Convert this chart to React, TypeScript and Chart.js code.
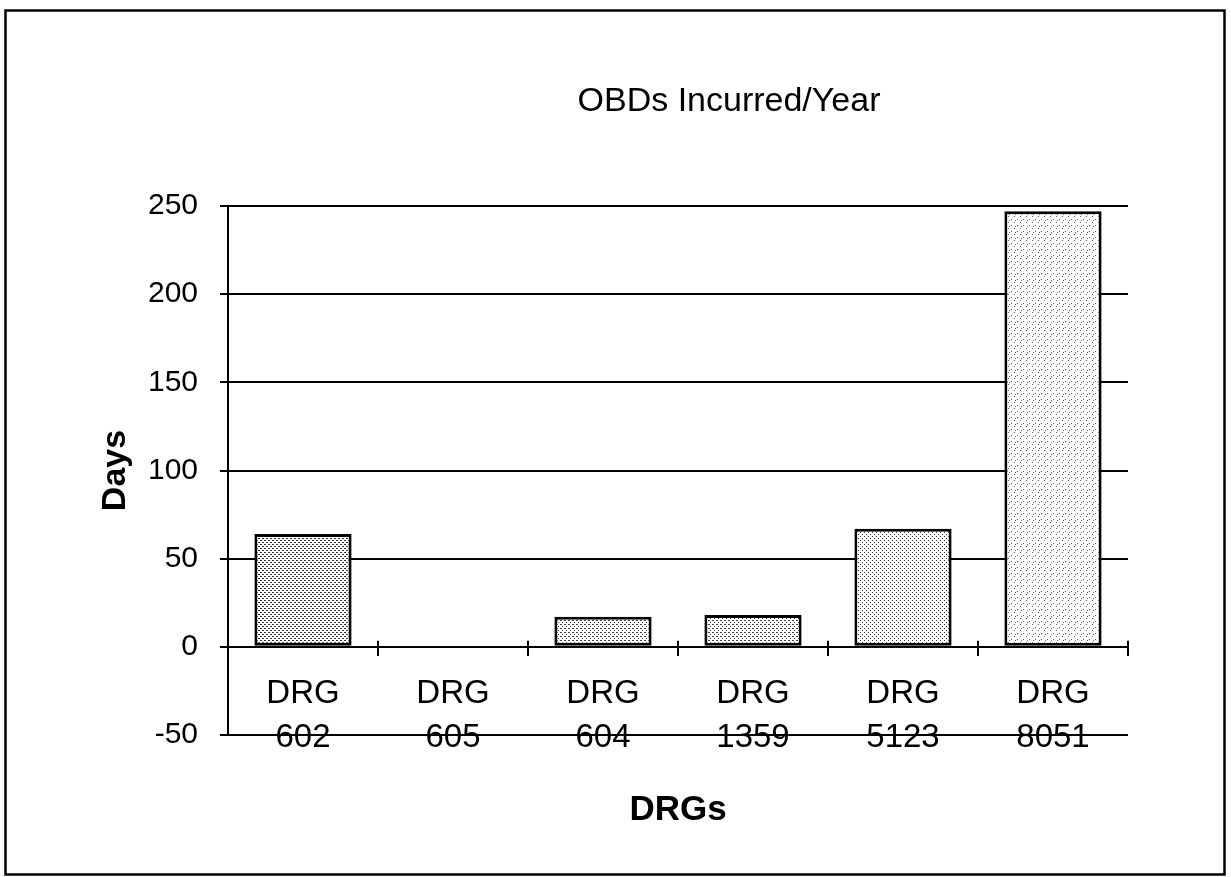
import React, { useEffect, useRef } from "react";
import { Chart, registerables } from "chart.js";

Chart.register(...registerables);

const chartTitle = "OBDs Incurred/Year";
const xAxisTitle = "DRGs";
const yAxisTitle = "Days";
const drgPrefix = "DRG";
const drgCodes = ["602", "605", "604", "1359", "5123", "8051"];
const obdDays = [64, 0, 17, 18, 67, 247];
const yMin = -50;
const yMax = 250;
const yStep = 50;

const FONT = "'Liberation Sans', Arial, Helvetica, sans-serif";

function makePattern(size: number, dots: number[][], color: string) {
  const c = document.createElement("canvas");
  c.width = size;
  c.height = size;
  const g = c.getContext("2d")!;
  g.fillStyle = "#ffffff";
  g.fillRect(0, 0, size, size);
  g.fillStyle = color;
  dots.forEach(([x, y]) => g.fillRect(x, y, 1, 1));
  return g.createPattern(c, "repeat");
}

export default function App() {
  const ref = useRef<HTMLCanvasElement | null>(null);

  useEffect(() => {
    if (!ref.current) return;
    const dark = makePattern(4, [[0, 0], [1, 0], [2, 2], [3, 2]], "#333");
    const med = makePattern(4, [[0, 0], [1, 0], [2, 2]], "#444");
    const light = makePattern(4, [[0, 0], [2, 2]], "#333");
    const pale = makePattern(6, [[0, 0], [3, 3], [1, 4]], "#666");
    const fills = [dark, med, med, med, light, pale];

    const framePlugin = {
      id: "frameAndTitle",
      afterDraw(chart: any) {
        const ctx = chart.ctx;
        ctx.save();
        ctx.strokeStyle = "#000";
        ctx.lineWidth = 2.5;
        ctx.strokeRect(5.5, 10.5, 1219, 864);
        ctx.fillStyle = "#000";
        ctx.font = `34px ${FONT}`;
        ctx.textAlign = "center";
        ctx.textBaseline = "middle";
        ctx.fillText(chartTitle, 729, 102);
        ctx.restore();
      },
      afterDatasetsDraw(chart: any) {
        const ctx = chart.ctx;
        const xs = chart.scales.x;
        const ys = chart.scales.y;
        const y0 = ys.getPixelForValue(0);
        ctx.save();
        ctx.strokeStyle = "#000";
        ctx.lineWidth = 2;
        for (let i = 0; i <= drgCodes.length; i++) {
          const x = Math.round(xs.getPixelForValue(i - 0.5));
          ctx.beginPath();
          ctx.moveTo(x, y0 - 6);
          ctx.lineTo(x, y0);
          ctx.stroke();
        }
        ctx.restore();
      },
    };

    const chart = new Chart(ref.current, {
      type: "bar",
      data: {
        labels: drgCodes.map((c) => [drgPrefix, c]),
        datasets: [
          {
            data: obdDays,
            backgroundColor: fills as any,
            borderColor: "#000",
            borderWidth: 3,
            borderSkipped: false,
            categoryPercentage: 0.8,
            barPercentage: 0.81,
          },
        ],
      },
      options: {
        animation: false,
        responsive: false,
        devicePixelRatio: 1,
        layout: { padding: { left: 0, top: 206, right: 103, bottom: 142 } },
        plugins: { legend: { display: false }, tooltip: { enabled: false }, title: { display: false } },
        scales: {
          x: {
            position: { y: 0 } as any,
            offset: true,
            grid: {
              display: true,
              offset: true,
              drawOnChartArea: false,
              drawTicks: true,
              tickLength: 8,
              color: "#000",
              lineWidth: 2,
            },
            border: { display: true, color: "#000", width: 2 },
            ticks: {
              color: "#000",
              padding: 17,
              maxRotation: 0,
              autoSkip: false,
              font: { family: FONT, size: 33, lineHeight: "44px" as any },
            },
            title: {
              display: true,
              text: xAxisTitle,
              color: "#000",
              padding: { top: 12, bottom: 0 },
              font: { family: FONT, size: 35, weight: "bold", lineHeight: "44px" as any },
            },
          },
          y: {
            position: "left",
            min: yMin,
            max: yMax,
            afterFit(scale: any) {
              scale.width = 228;
            },
            ticks: {
              stepSize: yStep,
              color: "#000",
              padding: 22,
              font: { family: FONT, size: 30 },
            },
            grid: {
              color: "#000",
              lineWidth: 2,
              tickLength: 8,
              drawTicks: true,
            },
            border: { display: true, color: "#000", width: 2 },
            title: {
              display: true,
              text: yAxisTitle,
              color: "#000",
              padding: { top: 95, bottom: 0 },
              font: { family: FONT, size: 34, weight: "bold", lineHeight: 1.2 },
            },
          },
        },
      },
      plugins: [framePlugin],
    });
    return () => chart.destroy();
  }, []);

  return (
    <div style={{ position: "absolute", left: 0, top: 0, width: 1231, height: 877, background: "#fff" }}>
      <canvas ref={ref} width={1231} height={877} style={{ display: "block", width: 1231, height: 877 }} />
    </div>
  );
}
